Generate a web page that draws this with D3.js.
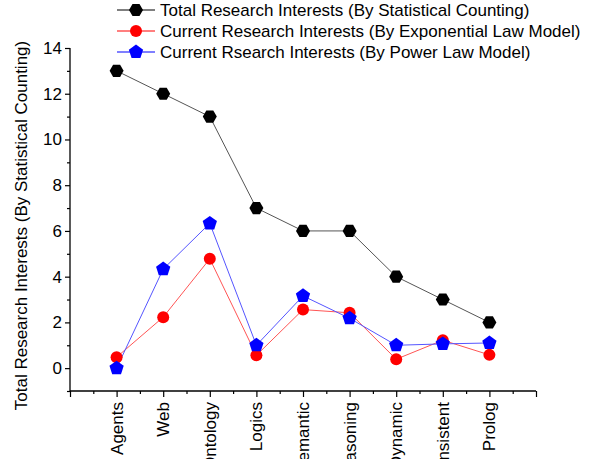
<!DOCTYPE html>
<html><head><meta charset="utf-8">
<script src="https://cdn.jsdelivr.net/npm/d3@7"></script>
<style>body{margin:0;background:#fff;}svg{display:block;}text{font-family:Arial,"Liberation Sans",sans-serif;}</style>
</head><body>
<svg id="c" width="597" height="459"></svg>
<script>
const categories = ["Agents","Web","Ontology","Logics","Semantic","Reasoning","Dynamic","Consistent","Prolog"];
const totalCounting = [13,12,11,7,6,6,4,3,2];
const exponentialModel = [0.48,2.23,4.78,0.56,2.56,2.42,0.39,1.22,0.58];
const powerLawModel = [0,4.33,6.33,1.0,3.16,2.18,1.0,1.06,1.1];
const yTicks = [0,2,4,6,8,10,12,14];
const seriesNames = ["Total Research Interests (By Statistical Counting)","Current Research Interests (By Exponential Law Model)","Current Rsearch Interests (By Power Law Model)"];
const yTitle = "Total Research Interests (By Statistical Counting)";

const svg = d3.select("#c");
const x = d3.scaleLinear().domain([0,10]).range([70,536]);
const y = d3.scaleLinear().domain([-1,14]).range([391,48]);

// axes
const xAxis = d3.axisBottom(x).tickValues(d3.range(0,10.01,1)).tickSize(6).tickFormat("");
const gx = svg.append("g").attr("transform",`translate(0,${y(-1)})`).call(xAxis);
const gxm = svg.append("g").attr("transform",`translate(0,${y(-1)})`).call(d3.axisBottom(x).tickValues(d3.range(0.5,10,1)).tickSize(3).tickFormat(""));
gxm.select(".domain").remove();
const gy = svg.append("g").attr("transform",`translate(${x(0)},0)`).call(d3.axisLeft(y).tickValues(yTicks).tickSize(5).tickSizeOuter(0).tickPadding(3));
const gym = svg.append("g").attr("transform",`translate(${x(0)},0)`).call(d3.axisLeft(y).tickValues(d3.range(-1,14,2)).tickSize(3).tickFormat(""));
gym.select(".domain").remove();
svg.selectAll(".domain").attr("stroke","#000").attr("stroke-width",1.3);
svg.selectAll(".tick line").attr("stroke","#000").attr("stroke-width",1.2);
gy.selectAll(".tick text").attr("font-size",17).attr("fill","#000").attr("font-family","Arial,'Liberation Sans',sans-serif");
gx.select(".domain").attr("d",`M${x(0)},0H${x(10)}`);
gy.select(".domain").attr("d",`M0,${y(14)}V${y(-1)}`);

// category labels
svg.append("g").selectAll("text").data(categories).join("text")
  .attr("transform",(d,i)=>`translate(${x(i+1)+6},${y(-1)+11}) rotate(-90)`)
  .attr("text-anchor","end").attr("font-size",17).attr("fill","#000").text(d=>d);

// y title
svg.append("text").attr("transform",`translate(27,${(y(14)+y(-1))/2+6}) rotate(-90)`)
  .attr("text-anchor","middle").attr("font-size",17).attr("fill","#000").text(yTitle);

function hexPath(r){const p=[];for(let k=0;k<6;k++){const a=Math.PI/3*k;p.push([r*Math.cos(a),r*Math.sin(a)]);}return "M"+p.map(q=>q.join(",")).join("L")+"Z";}
function pentPath(r){const p=[];for(let k=0;k<5;k++){const a=-Math.PI/2+2*Math.PI/5*k;p.push([r*Math.cos(a),r*Math.sin(a)]);}return "M"+p.map(q=>q.join(",")).join("L")+"Z";}
const markers = [
  {vals: totalCounting, color:"#000", line:"#555", path:hexPath(7)},
  {vals: exponentialModel, color:"#ff0000", line:"#ff5555", path:null},
  {vals: powerLawModel, color:"#0000ff", line:"#5555ff", path:pentPath(7.5)}
];
const line = d3.line().x((d,i)=>x(i+1)).y(d=>y(d));
markers.forEach(s=>{
  svg.append("path").attr("d",line(s.vals)).attr("fill","none").attr("stroke",s.line).attr("stroke-width",1);
});
markers.forEach(s=>{
  const g = svg.append("g");
  s.vals.forEach((v,i)=>{
    if(s.path) g.append("path").attr("d",s.path).attr("transform",`translate(${x(i+1)},${y(v)})`).attr("fill",s.color);
    else g.append("circle").attr("cx",x(i+1)).attr("cy",y(v)).attr("r",6).attr("fill",s.color);
  });
});

// legend
const lg = svg.append("g");
markers.forEach((s,i)=>{
  const yy = 10 + i*21;
  lg.append("line").attr("x1",117).attr("x2",155).attr("y1",yy).attr("y2",yy).attr("stroke",s.line).attr("stroke-width",1.3);
  if(s.path) lg.append("path").attr("d",s.path).attr("transform",`translate(136,${yy})`).attr("fill",s.color);
  else lg.append("circle").attr("cx",136).attr("cy",yy).attr("r",6).attr("fill",s.color);
  lg.append("text").attr("x",160).attr("y",yy+6).attr("font-size",17).attr("fill","#000").text(seriesNames[i]);
});
</script>
</body></html>
